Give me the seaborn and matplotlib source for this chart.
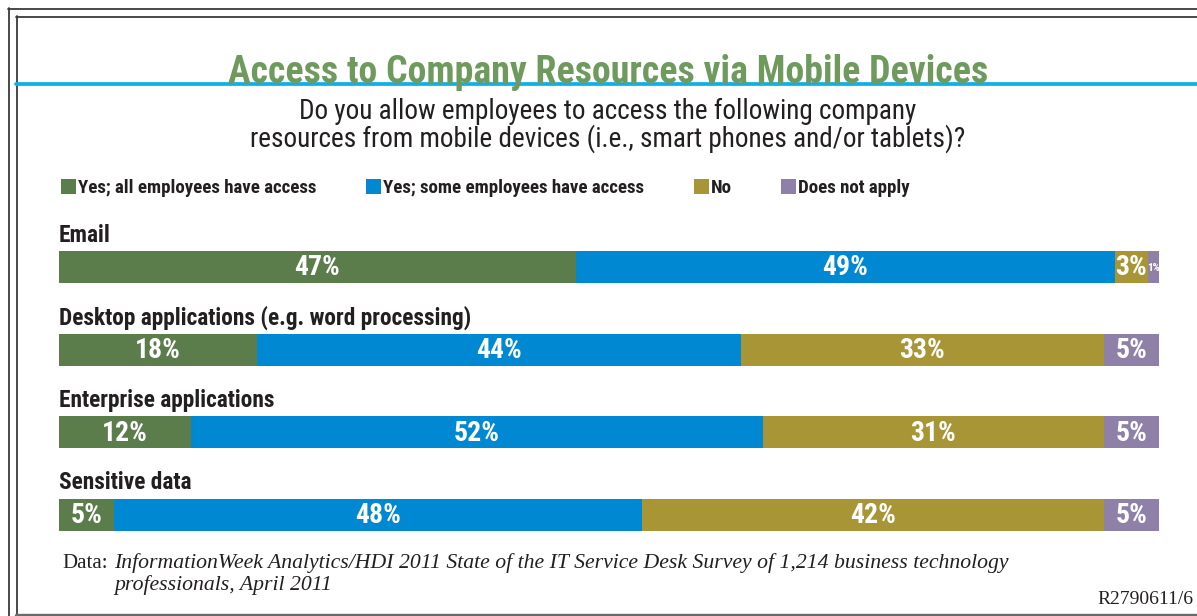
import os
import numpy as np
import pandas as pd
import seaborn as sns
import matplotlib.pyplot as plt
from matplotlib import font_manager as fm
from matplotlib.lines import Line2D
from matplotlib.patches import Patch

# Survey data (percent of respondents)
categories = ["Email", "Desktop applications (e.g. word processing)",
              "Enterprise applications", "Sensitive data"]
series = ["Yes; all employees have access", "Yes; some employees have access",
          "No", "Does not apply"]
all_access = [47, 18, 12, 5]
some_access = [49, 44, 52, 48]
no_access = [3, 33, 31, 42]
not_apply = [1, 5, 5, 5]
colors = ["#5a7d4b", "#0089d2", "#a89536", "#8f80a8"]

title = "Access to Company Resources via Mobile Devices"
question = ["Do you allow employees to access the following company",
            "resources from mobile devices (i.e., smart phones and/or tablets)?"]
source = ["InformationWeek Analytics/HDI 2011 State of the IT Service Desk Survey of 1,214 business technology",
          "professionals, April 2011"]
code = "R2790611/6"

sns.set_theme(style="white")
plt.rcParams["font.family"] = ["DejaVu Sans"]

# --- pick a condensed sans face if one is installed -------------------------
_files = {}
for _f in fm.fontManager.ttflist:
    _files.setdefault(os.path.basename(_f.fname), _f.fname)


def find_font(names, bold):
    for n in names:
        if n in _files:
            return fm.FontProperties(fname=_files[n])
    for base, path in sorted(_files.items()):
        low = base.lower()
        if not ("condensed" in low or "narrow" in low or "cond" in low):
            continue
        if "italic" in low or "light" in low or "semibold" in low or "extrabold" in low or "black" in low:
            continue
        if bold == ("bold" in low):
            return fm.FontProperties(fname=path)
    return fm.FontProperties(family="DejaVu Sans",
                             weight="bold" if bold else "normal")


BOLD = find_font(["RobotoCondensed-Bold.ttf", "LiberationSansNarrow-Bold.ttf",
                  "OpenSans-CondBold.ttf", "OpenSans-CondensedBold.ttf",
                  "NotoSans-CondensedBold.ttf", "DejaVuSansCondensed-Bold.ttf"], True)
REG = find_font(["RobotoCondensed-Regular.ttf", "LiberationSansNarrow-Regular.ttf",
                 "NotoSans-Condensed.ttf", "OpenSans-Condensed-Regular.ttf",
                 "DejaVuSansCondensed.ttf"], False)
SERIF = ["Liberation Serif", "DejaVu Serif"]

W, H = 1197, 616
fig = plt.figure(figsize=(W / 100, H / 100), dpi=100)
fig.patch.set_facecolor("white")
renderer = fig.canvas.get_renderer()


def fx(px):
    return px / W


def fy(py):
    return 1 - py / H


def fit(t, width_px, max_size):
    """Scale a text so that it spans width_px, but no larger than max_size."""
    w = t.get_window_extent(renderer).width
    t.set_fontsize(min(t.get_fontsize() * width_px / w, max_size))
    return t.get_fontsize()


# Frame and header rule
frame = "#3a3a3a"
fig.add_artist(Line2D([fx(8), 1], [fy(8.5), fy(8.5)], color=frame, lw=1.3))
fig.add_artist(Line2D([fx(8.5), fx(8.5)], [fy(8), 0], color=frame, lw=1.3))
fig.add_artist(Line2D([fx(16), 1], [fy(16.5), fy(16.5)], color=frame, lw=1.3))
fig.add_artist(Line2D([fx(16.5), fx(16.5)], [fy(16), fy(614)], color=frame, lw=1.3))
fig.add_artist(Line2D([fx(16), 1], [fy(614.5), fy(614.5)], color="#6a6a6a", lw=2.4))
fig.add_artist(Line2D([fx(16), 1], [fy(84), fy(84)], color="#0fb0e8", lw=2.7))

# Title and question
t = fig.text(fx(608), fy(83), title, ha="center", va="baseline",
             fontproperties=BOLD, fontsize=30, color="#6f9a5e")
fit(t, 760, 33)
q1 = fig.text(fx(608), fy(111), question[0], ha="center", va="center",
              fontproperties=REG, fontsize=18, color="#231f20")
q2 = fig.text(fx(608), fy(139), question[1], ha="center", va="center",
              fontproperties=REG, fontsize=18, color="#231f20")
qs = fit(q2, 721, 19.5)
q1.set_fontsize(qs)

# Stacked horizontal bars
df = pd.DataFrame({"category": categories,
                   series[0]: all_access, series[1]: some_access,
                   series[2]: no_access, series[3]: not_apply})
values = df[series].to_numpy()
cums = values.cumsum(axis=1)

ax = fig.add_axes([fx(59), fy(556.3), fx(1159) - fx(59), fy(225.7) - fy(556.3)])
for k in range(len(series) - 1, -1, -1):
    sns.barplot(x=cums[:, k], y=df["category"], order=categories, orient="h",
                color=colors[k], saturation=1, width=0.39, linewidth=0,
                ax=ax)

ax.set_xlim(0, 100)
ax.set_ylim(3.5, -0.5)
ax.set_xticks([])
ax.set_yticks([])
ax.set_xlabel("")
ax.set_ylabel("")
for s in ax.spines.values():
    s.set_visible(False)
ax.patch.set_alpha(0)

# category captions, sized from the longest one
probe = fig.text(0, 0, categories[1], fontproperties=BOLD, fontsize=16)
cat_size = fit(probe, 413, 18.5)
probe.remove()
probe = fig.text(0, 0, "47%", fontproperties=BOLD, fontsize=18)
val_size = fit(probe, 48, 20)
probe.remove()

for i, cat in enumerate(categories):
    ax.text(0, i - 0.387, cat, ha="left", va="center", fontproperties=BOLD,
            fontsize=cat_size, color="#231f20")
    for k in range(len(series)):
        v = values[i, k]
        left = cums[i, k] - v
        size = val_size if v >= 3 else val_size * 0.4
        ax.text(left + v / 2, i + 0.01, f"{v}%", ha="center", va="center",
                fontproperties=BOLD, fontsize=size, color="white")

# Legend
probe = fig.text(0, 0, series[0], fontproperties=BOLD, fontsize=14)
leg_size = fit(probe, 240, 15)
probe.remove()
leg_font = BOLD.copy()
leg_font.set_size(leg_size)
handles = [Patch(facecolor=c, edgecolor="none") for c in colors]
fig.legend(handles, series, loc="center left",
           bbox_to_anchor=(fx(61), fy(188)), ncol=4, frameon=False,
           borderpad=0, borderaxespad=0, handlelength=0.8, handleheight=0.8,
           handletextpad=0.1, columnspacing=2.62, prop=leg_font,
           labelcolor="#231f20")

# Source note
fig.text(fx(62), fy(563), "Data:", ha="left", va="center", fontsize=15,
         family=SERIF, color="#231f20")
s1 = fig.text(fx(114), fy(563), source[0], ha="left", va="center",
              fontsize=15, style="italic", family=SERIF, color="#231f20")
src_size = fit(s1, 901, 16)
fig.text(fx(114), fy(585), source[1], ha="left", va="center",
         fontsize=src_size, style="italic", family=SERIF, color="#231f20")
fig.text(fx(1193), fy(599), code, ha="right", va="center",
         fontsize=14, family=SERIF, color="#231f20")

fig.savefig("out.png", dpi=100, facecolor="white")
